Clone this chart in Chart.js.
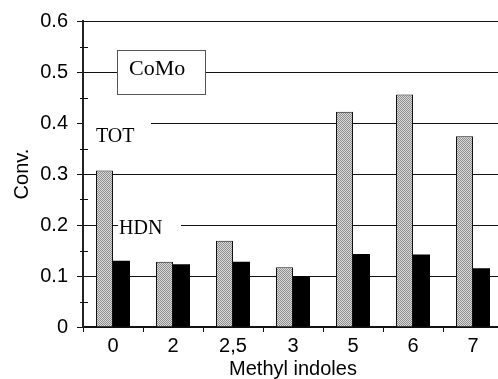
<!DOCTYPE html>
<html>
<head>
<meta charset="utf-8">
<script src="https://cdn.jsdelivr.net/npm/chart.js@4/dist/chart.umd.min.js"></script>
<style>
  html, body { margin: 0; padding: 0; background: #fff; overflow: hidden; }
  #wrap { position: relative; width: 505px; height: 379px; }
</style>
</head>
<body>
<div id="wrap"><canvas id="grafico"></canvas></div>
<script>
const categorias = ['0', '2', '2,5', '3', '5', '6', '7'];
const convTOT = [0.307, 0.128, 0.169, 0.117, 0.422, 0.456, 0.374];
const convHDN = [0.130, 0.123, 0.128, 0.100, 0.143, 0.142, 0.115];
const marcasY = [0, 0.1, 0.2, 0.3, 0.4, 0.5, 0.6];

// stippled grey fill for the TOT bars
function tramaGris() {
  const c = document.createElement('canvas');
  c.width = 2; c.height = 2;
  const g = c.getContext('2d');
  g.fillStyle = '#dcdcdc';
  g.fillRect(0, 0, 2, 2);
  g.fillStyle = '#8c8c8c';
  g.fillRect(0, 0, 1, 1);
  g.fillRect(1, 1, 1, 1);
  return g.createPattern(c, 'repeat');
}

Chart.defaults.font.family = '"Liberation Sans", Arial, sans-serif';
Chart.defaults.color = '#000';

// labels written on the plot: they cut the grid lines behind them
const rotulos = {
  id: 'rotulos',
  beforeDatasetsDraw(chart) {
    const { ctx } = chart;
    const y = chart.scales.y;
    ctx.save();
    ctx.fillStyle = '#fff';
    ctx.fillRect(84, y.getPixelForValue(0.4) - 2, 151 - 84, 4);
    ctx.fillRect(118, y.getPixelForValue(0.2) - 2, 181 - 118, 4);
    // minor ticks crossing the y axis
    ctx.strokeStyle = '#111';
    ctx.lineWidth = 1;
    for (let v = 0.05; v < 0.6; v += 0.1) {
      const py = Math.round(y.getPixelForValue(v)) + 0.5;
      ctx.beginPath();
      ctx.moveTo(y.right - 3, py);
      ctx.lineTo(y.right + 5, py);
      ctx.stroke();
    }
    ctx.restore();
  },
  afterDatasetsDraw(chart) {
    const { ctx } = chart;
    const y = chart.scales.y;
    ctx.save();
    // CoMo box
    const top = y.getPixelForValue(0.5) - 22;
    ctx.fillStyle = '#fff';
    ctx.fillRect(117, top, 88, 44);
    ctx.strokeStyle = '#555';
    ctx.lineWidth = 1;
    ctx.strokeRect(117.5, top + 0.5, 88, 44);
    ctx.fillStyle = '#000';
    ctx.textBaseline = 'middle';
    ctx.font = '22px "Liberation Serif", "Times New Roman", serif';
    ctx.fillText('CoMo', 129, top + 19);
    ctx.font = '20px "Liberation Serif", "Times New Roman", serif';
    ctx.fillText('TOT', 96, y.getPixelForValue(0.4) + 14);
    ctx.fillText('HDN', 119, y.getPixelForValue(0.2) + 4);
    ctx.restore();
  }
};

const ctx = document.getElementById('grafico').getContext('2d');

new Chart(ctx, {
  type: 'bar',
  data: {
    labels: categorias,
    datasets: [
      {
        label: 'TOT',
        data: convTOT,
        backgroundColor: tramaGris(),
        borderColor: '#111',
        borderWidth: 1,
        borderSkipped: 'bottom'
      },
      {
        label: 'HDN',
        data: convHDN,
        backgroundColor: '#000',
        borderWidth: 0
      }
    ]
  },
  options: {
    responsive: true,
    maintainAspectRatio: false,
    animation: false,
    categoryPercentage: 0.567,
    barPercentage: 1.0,
    layout: { padding: { top: 20, right: 2, left: 0, bottom: 0 } },
    plugins: {
      legend: { display: false },
      tooltip: { enabled: false }
    },
    scales: {
      x: {
        grid: { display: true, drawOnChartArea: false, offset: true, color: '#111', tickLength: 5 },
        border: { display: true, color: '#111', width: 2 },
        ticks: { font: { size: 20 }, padding: 2 },
        title: { display: true, text: 'Methyl indoles', font: { size: 20 }, padding: { top: 1, bottom: -2 } },
        afterFit(s) { s.height = 52; }
      },
      y: {
        min: 0,
        max: 0.6,
        ticks: {
          stepSize: 0.05,
          font: { size: 20 },
          padding: 9,
          callback(v, i) {
            if (i % 2) return '';
            const m = marcasY[i / 2];
            return m === 0 ? '0' : m.toFixed(1);
          }
        },
        grid: {
          color: c => (c.index % 2 === 0 ? '#111' : 'rgba(0,0,0,0)'),
          tickLength: 6,
          lineWidth: 1
        },
        border: { display: true, color: '#222', width: 2 },
        title: { display: true, text: 'Conv.', font: { size: 20 }, padding: { top: 10, bottom: 0 } },
        afterFit(s) { s.width = 83; }
      }
    }
  },
  plugins: [rotulos]
});
</script>
</body>
</html>
